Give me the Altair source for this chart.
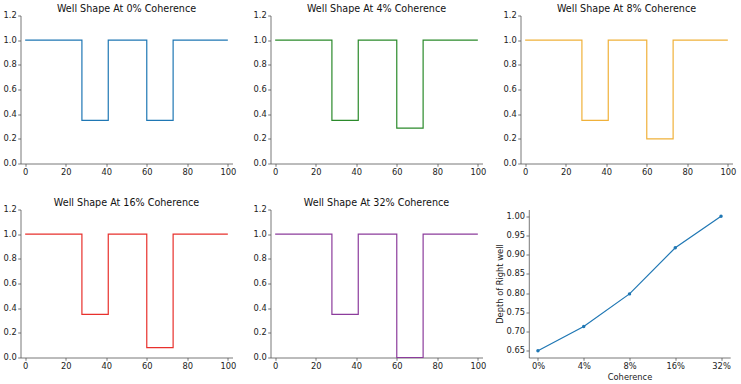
import altair as alt
import pandas as pd

# Coherence levels and the measured well shapes
coherence_labels = ["0%", "4%", "8%", "16%", "32%"]
well_edges = [0, 28, 41, 60, 73, 100]
left_well_level = 0.35
right_well_levels = [0.35, 0.2875, 0.2, 0.08, 0.0]
right_well_depth = [0.65, 0.713, 0.798, 0.918, 1.0]
line_colors = ["#1f77b4", "#2b8a2b", "#f0b13a", "#e8302c", "#8c3c9c"]

x_ticks = [0, 20, 40, 60, 80, 100]
y_ticks = [0.0, 0.2, 0.4, 0.6, 0.8, 1.0, 1.2]
depth_ticks = [0.65, 0.70, 0.75, 0.80, 0.85, 0.90, 0.95, 1.00]

FONT = "DejaVu Sans"
PANEL_W = 212
PANEL_H = 148


def well_profile(right_level):
    # step-after: each level holds until the next edge
    levels = [1.0, left_well_level, 1.0, right_level, 1.0, 1.0]
    return pd.DataFrame({"x": well_edges, "y": levels})


def well_panel(i):
    return (
        alt.Chart(
            well_profile(right_well_levels[i]),
            title=alt.Title(f"Well Shape At {coherence_labels[i]} Coherence"),
        )
        .mark_line(interpolate="step-after", color=line_colors[i], strokeWidth=1.2)
        .encode(
            x=alt.X(
                "x:Q",
                scale=alt.Scale(domain=[-2.3, 102.3], nice=False, zero=False),
                axis=alt.Axis(values=x_ticks, format="d", title=None),
            ),
            y=alt.Y(
                "y:Q",
                scale=alt.Scale(domain=[0, 1.2], nice=False),
                axis=alt.Axis(values=y_ticks, format=".1f", title=None),
            ),
        )
        .properties(width=PANEL_W, height=PANEL_H)
    )


# Depth panel sits a little inset inside its grid cell
inset = 8.3
depth_df = pd.DataFrame({"coherence": coherence_labels, "depth": right_well_depth})
depth_base = alt.Chart(depth_df).encode(
    x=alt.X(
        "coherence:O",
        sort=coherence_labels,
        scale=alt.Scale(type="point", padding=0.2, range=[inset, 209.7]),
        axis=alt.Axis(title="Coherence", labelAngle=0),
    ),
    y=alt.Y(
        "depth:Q",
        scale=alt.Scale(domain=[0.6325, 1.0175], nice=False, zero=False),
        axis=alt.Axis(
            values=depth_ticks,
            format=".2f",
            title="Depth of Right well",
            offset=-inset,
        ),
    ),
)
depth_panel = (
    depth_base.mark_line(color="#1f77b4", strokeWidth=1.2)
    + depth_base.mark_point(filled=True, size=12, color="#1f77b4", opacity=1)
).properties(width=PANEL_W, height=PANEL_H)

panels = [well_panel(i) for i in range(5)] + [depth_panel]

chart = (
    alt.concat(*panels, columns=3, spacing={"row": 46, "column": 38}, bounds="flush")
    .properties(padding={"left": 2.5, "top": 3.5, "right": 0, "bottom": 0})
    .configure_axis(
        labelFont=FONT,
        labelFontSize=8.3,
        labelColor="#222",
        titleFont=FONT,
        titleFontSize=8.3,
        titleFontWeight="normal",
        titleColor="#222",
        titlePadding=2,
        domainColor="#555",
        domainWidth=0.8,
        tickColor="#555",
        tickWidth=0.8,
        tickSize=2.8,
        labelPadding=1.5,
        grid=False,
        labelFlush=False,
    )
    .configure_title(
        font=FONT, fontSize=9.6, fontWeight="normal", color="#111", offset=-3, frame="group"
    )
    .configure_view(stroke=None)
)

chart.save("out.html", embed_options={"renderer": "svg", "actions": False})
